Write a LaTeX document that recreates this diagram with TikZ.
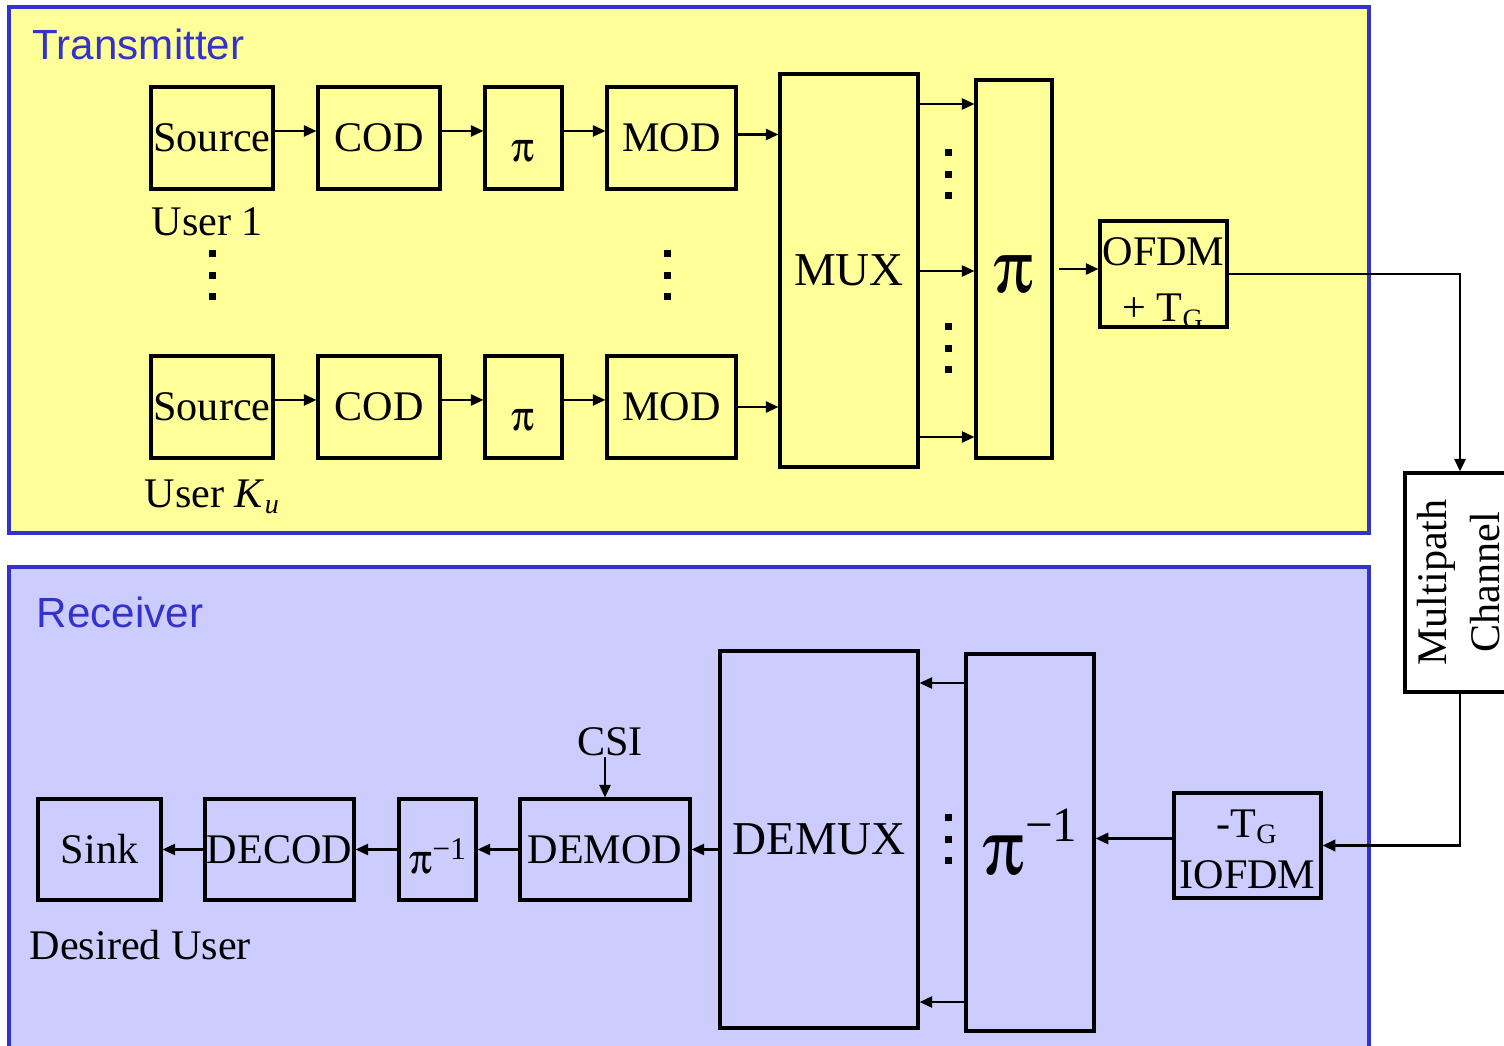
\documentclass[tikz,border=0pt]{standalone}
\usepackage{fontspec}
\setmainfont{Liberation Serif}
\newfontfamily\titlefont{Liberation Sans}
\usepackage[Symbol]{upgreek}
\usepackage{xcolor}
\usepackage{tikz}
\usetikzlibrary{arrows.meta,positioning,calc}
\definecolor{txyellow}{HTML}{FFFF99}
\definecolor{rxlav}{HTML}{CCCCFF}
\definecolor{panelblue}{HTML}{3333CC}
\newcommand{\blkfont}{\fontsize{12}{14}\selectfont}
\newcommand{\bigfont}{\fontsize{13.4}{16}\selectfont}
\newcommand{\perm}{\ensuremath{\uppi}}
% lower a text without changing the size the node sees
\newcommand{\shiftdn}[2]{\raisebox{-#1}[\height][\depth]{#2}}

\tikzset{
  blk/.style={draw, line width=0.9pt, inner sep=0pt, font=\blkfont, minimum height=1.02cm},
  panel/.style={draw=panelblue, line width=1.2pt},
  ttl/.style={font=\titlefont\fontsize{12}{14}\selectfont, text=panelblue, anchor=west, inner sep=0pt},
  lbl/.style={font=\blkfont, anchor=west, inner sep=0pt},
  sig/.style={line width=0.6pt},
}

\begin{document}
\begin{tikzpicture}[>={Triangle[length=3.6pt,width=3.2pt]}, x=1cm, y=-1cm]
  \useasboundingbox (0,0) rectangle (15.04,10.45);
  % panels
  \draw[panel, fill=txyellow] (0.09,0.07) rectangle (13.69,5.33);
  \draw[panel, fill=rxlav] (0.09,5.67) rectangle (13.69,10.9);
  \node[ttl] (txtitle) at (0.32,0.44) {Transmitter};
  \node[ttl] (rxtitle) at (0.36,6.12) {Receiver};

  % transmitter, user 1
  \node[blk, minimum width=1.22cm] (src1) at (2.12,1.38) {Source};
  \node[blk, minimum width=1.22cm] (cod1) at (3.79,1.38) {COD};
  \node[blk, minimum width=0.77cm] (il1) at (5.235,1.38) {\shiftdn{3.8pt}{\perm}};
  \node[blk, minimum width=1.29cm] (mod1) at (6.715,1.38) {MOD};
  \node[lbl] (usr1) at (1.51,2.22) {User 1};
  % transmitter, user K_u
  \node[blk, minimum width=1.22cm] (src2) at (2.12,4.07) {Source};
  \node[blk, minimum width=1.22cm] (cod2) at (3.79,4.07) {COD};
  \node[blk, minimum width=0.77cm] (il2) at (5.235,4.07) {\shiftdn{3.8pt}{\perm}};
  \node[blk, minimum width=1.29cm] (mod2) at (6.715,4.07) {MOD};
  \node[lbl] (usr2) at (1.44,4.97) {User \textit{K}\textsubscript{\textit{u}}};

  \node[blk, minimum width=1.38cm, minimum height=3.93cm, font=\bigfont] (mux) at (8.49,2.705) {MUX};
  \node[blk, minimum width=0.76cm, minimum height=3.78cm, font=\fontsize{21}{24}\selectfont] (pit) at (10.14,2.69)
    {\shiftdn{1.5pt}{\perm}};
  \node[blk, minimum width=1.27cm, minimum height=1.06cm] (ofdm) at (11.635,2.74)
    {\shiftdn{2.8pt}{\begin{tabular}{@{}c@{}}OFDM\\[2pt]+ T\textsubscript{G}\end{tabular}}};

  % channel, text turned upright
  \node[blk, minimum width=1.10cm, minimum height=2.19cm] (chan) at (14.60,5.825)
    {\rotatebox{90}{\shiftdn{0.8pt}{\begin{tabular}{@{}c@{}}Multipath\\[1pt] Channel\end{tabular}}}};

  % receiver
  \node[blk, minimum width=1.47cm, minimum height=1.05cm] (iofdm) at (12.475,8.455)
    {\shiftdn{2.1pt}{\begin{tabular}{@{}c@{}}-T\textsubscript{G}\\[0.5pt] IOFDM\end{tabular}}};
  \node[blk, minimum width=1.28cm, minimum height=3.77cm] (pir) at (10.30,8.425)
    {\raisebox{-4pt}{\fontsize{22}{24}\selectfont\perm}\raisebox{1.0ex}{\fontsize{14}{16}\selectfont −1}};
  \node[blk, minimum width=1.98cm, minimum height=3.77cm, font=\bigfont] (demux) at (8.19,8.395) {DEMUX};
  \node[blk, minimum width=1.70cm, minimum height=1.01cm] (demod) at (6.05,8.495) {DEMOD};
  \node[blk, minimum width=0.77cm, minimum height=1.01cm] (dil) at (4.375,8.495)
    {\shiftdn{4pt}{\perm}{\fontsize{9}{10}\selectfont −1}};
  \node[blk, minimum width=1.49cm, minimum height=1.01cm] (decod) at (2.795,8.495) {DECOD};
  \node[blk, minimum width=1.23cm, minimum height=1.01cm] (sink) at (0.995,8.495) {Sink};
  \node[font=\blkfont, inner sep=0pt] (csi) at (6.10,7.42) {CSI};
  \node[lbl] (dsr) at (0.29,9.45) {Desired User};

  % transmit chains
  \draw[sig,->] ([yshift=2pt]src1.east) -- ([yshift=2pt]cod1.west);
  \draw[sig,->] ([yshift=2pt]cod1.east) -- ([yshift=2pt]il1.west);
  \draw[sig,->] ([yshift=2pt]il1.east) -- ([yshift=2pt]mod1.west);
  \draw[sig,->] ([yshift=1pt]mod1.east) -- ([yshift=1pt]mod1.east -| mux.west);
  \draw[sig,->] ([yshift=2pt]src2.east) -- ([yshift=2pt]cod2.west);
  \draw[sig,->] ([yshift=2pt]cod2.east) -- ([yshift=2pt]il2.west);
  \draw[sig,->] ([yshift=2pt]il2.east) -- ([yshift=2pt]mod2.west);
  \draw[sig,->] (mod2.east) -- (mod2.east -| mux.west);
  \foreach \yy in {1.04,2.71,4.37}
    \draw[sig,->] (mux.east |- 0,\yy) -- (pit.west |- 0,\yy);
  \draw[sig,->, shorten <=1.5pt] (pit.east) -- (pit.east -| ofdm.west);
  \draw[line width=0.8pt,->] (ofdm.east) -| (chan.north);
  \draw[line width=0.8pt,->] (chan.south) |- (iofdm.east);

  % receive chain
  \draw[sig,->] ([yshift=2pt]iofdm.west) -- ([yshift=2pt]iofdm.west -| pir.east);
  \foreach \yy in {6.83,10.02}
    \draw[sig,->] (pir.west |- 0,\yy) -- (demux.east |- 0,\yy);
  \draw[sig,->] (demod.east -| demux.west) -- (demod.east);
  \draw[sig,->] (demod.west) -- (dil.east);
  \draw[sig,->] (dil.west) -- (decod.east);
  \draw[sig,->] (decod.west) -- (sink.east);
  \draw[sig,->] (csi.south -| demod.north) -- (demod.north);

  % vertical dots
  \foreach \xx/\yy in {2.12/2.75, 6.67/2.75, 9.48/1.74, 9.48/3.48, 9.48/8.39}
    \foreach \dd in {-0.215,0,0.215}
      \fill ($(\xx,\yy)+(-0.035,\dd-0.035)$) rectangle +(0.07,0.07);
\end{tikzpicture}
\end{document}
